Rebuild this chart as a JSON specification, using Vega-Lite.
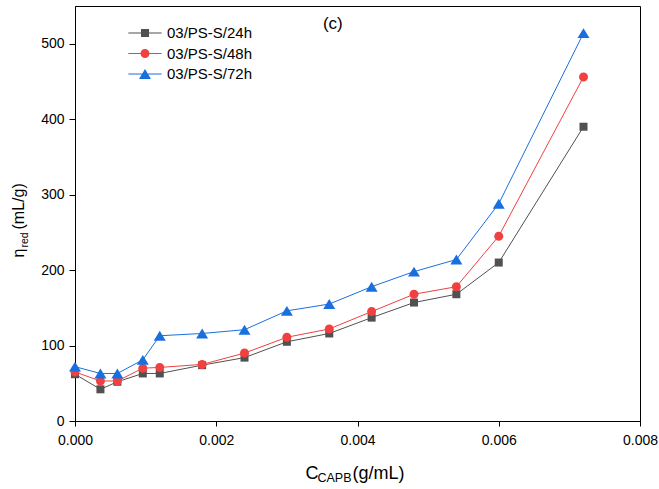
{
  "$schema": "https://vega.github.io/schema/vega-lite/v6.json",
  "autosize": {"type": "none"},
  "padding": {"left": 75, "top": 6, "right": 19, "bottom": 68},
  "width": 565,
  "height": 415,
  "config": {
    "font": "Liberation Sans",
    "view": {"stroke": "black", "strokeWidth": 1},
    "axis": {
      "labelFont": "Liberation Sans",
      "labelFontSize": 14,
      "labelColor": "black",
      "labelFlush": false,
      "tickColor": "black",
      "domainColor": "black",
      "grid": false,
      "titleFont": "Liberation Sans",
      "titleFontWeight": "normal",
      "titleColor": "black"
    },
    "legend": {"labelFont": "Liberation Sans"}
  },
  "datasets": {
    "main": [
      {"x": 0, "series": "03/PS-S/24h", "eta": 62},
      {"x": 0.00036, "series": "03/PS-S/24h", "eta": 42},
      {"x": 0.0006, "series": "03/PS-S/24h", "eta": 52},
      {"x": 0.00096, "series": "03/PS-S/24h", "eta": 63},
      {"x": 0.0012, "series": "03/PS-S/24h", "eta": 63},
      {"x": 0.0018, "series": "03/PS-S/24h", "eta": 74},
      {"x": 0.0024, "series": "03/PS-S/24h", "eta": 84},
      {"x": 0.003, "series": "03/PS-S/24h", "eta": 105},
      {"x": 0.0036, "series": "03/PS-S/24h", "eta": 116},
      {"x": 0.0042, "series": "03/PS-S/24h", "eta": 137},
      {"x": 0.0048, "series": "03/PS-S/24h", "eta": 157},
      {"x": 0.0054, "series": "03/PS-S/24h", "eta": 168},
      {"x": 0.006, "series": "03/PS-S/24h", "eta": 210},
      {"x": 0.0072, "series": "03/PS-S/24h", "eta": 390},
      {"x": 0, "series": "03/PS-S/48h", "eta": 65},
      {"x": 0.00036, "series": "03/PS-S/48h", "eta": 53},
      {"x": 0.0006, "series": "03/PS-S/48h", "eta": 53},
      {"x": 0.00096, "series": "03/PS-S/48h", "eta": 70},
      {"x": 0.0012, "series": "03/PS-S/48h", "eta": 71},
      {"x": 0.0018, "series": "03/PS-S/48h", "eta": 75},
      {"x": 0.0024, "series": "03/PS-S/48h", "eta": 90},
      {"x": 0.003, "series": "03/PS-S/48h", "eta": 111},
      {"x": 0.0036, "series": "03/PS-S/48h", "eta": 122},
      {"x": 0.0042, "series": "03/PS-S/48h", "eta": 145},
      {"x": 0.0048, "series": "03/PS-S/48h", "eta": 168},
      {"x": 0.0054, "series": "03/PS-S/48h", "eta": 178},
      {"x": 0.006, "series": "03/PS-S/48h", "eta": 245},
      {"x": 0.0072, "series": "03/PS-S/48h", "eta": 456},
      {"x": 0, "series": "03/PS-S/72h", "eta": 72},
      {"x": 0.00036, "series": "03/PS-S/72h", "eta": 63},
      {"x": 0.0006, "series": "03/PS-S/72h", "eta": 63},
      {"x": 0.00096, "series": "03/PS-S/72h", "eta": 81},
      {"x": 0.0012, "series": "03/PS-S/72h", "eta": 113},
      {"x": 0.0018, "series": "03/PS-S/72h", "eta": 116},
      {"x": 0.0024, "series": "03/PS-S/72h", "eta": 121},
      {"x": 0.003, "series": "03/PS-S/72h", "eta": 146},
      {"x": 0.0036, "series": "03/PS-S/72h", "eta": 155},
      {"x": 0.0042, "series": "03/PS-S/72h", "eta": 178},
      {"x": 0.0048, "series": "03/PS-S/72h", "eta": 198},
      {"x": 0.0054, "series": "03/PS-S/72h", "eta": 214},
      {"x": 0.006, "series": "03/PS-S/72h", "eta": 288},
      {"x": 0.0072, "series": "03/PS-S/72h", "eta": 514}
    ],
    "label": [
      {"x": 0.00365, "eta": 526, "text": "(c)"}
    ],
    "legendrows": [
      {"name": "03/PS-S/24h"},
      {"name": "03/PS-S/48h"},
      {"name": "03/PS-S/72h"}
    ]
  },
  "layer": [
    {
      "data": {"name": "main"},
      "mark": {"type": "line", "strokeWidth": 1, "clip": false},
      "encoding": {
        "x": {
          "field": "x", "type": "quantitative",
          "scale": {"domain": [0, 0.008], "nice": false, "zero": false},
          "axis": {
            "orient": "bottom", "values": [0, 0.002, 0.004, 0.006, 0.008], "format": ".3f",
            "tickSize": 5, "labelPadding": 7,
            "title": "C", "titleFontSize": 18, "titleX": 230, "titleY": 57,
            "titleAlign": "left", "titleBaseline": "alphabetic", "titleAngle": 0
          }
        },
        "y": {
          "field": "eta", "type": "quantitative",
          "scale": {"domain": [0, 550], "nice": false, "zero": false},
          "axis": {
            "orient": "left", "values": [0, 100, 200, 300, 400, 500],
            "tickSize": 6, "labelPadding": 5,
            "title": "η", "titleFontSize": 16, "titleX": -52, "titleY": 251,
            "titleAlign": "left", "titleBaseline": "alphabetic", "titleAngle": -90
          }
        },
        "color": {
          "field": "series", "type": "nominal",
          "scale": {"domain": ["03/PS-S/24h", "03/PS-S/48h", "03/PS-S/72h"], "range": ["#515151", "#F14040", "#1A6FDF"]},
          "legend": null
        }
      }
    },
    {
      "data": {"name": "main"},
      "mark": {"type": "point", "filled": true, "opacity": 1, "size": 81, "clip": false},
      "encoding": {
        "x": {
          "field": "x", "type": "quantitative",
          "scale": {"domain": [0, 0.008], "nice": false, "zero": false},
          "axis": {
            "orient": "bottom", "labels": false, "ticks": false, "domain": false,
            "title": "CAPB", "titleFontSize": 12.5, "titleX": 242, "titleY": 60,
            "titleAlign": "left", "titleBaseline": "alphabetic", "titleAngle": 0
          }
        },
        "y": {
          "field": "eta", "type": "quantitative",
          "scale": {"domain": [0, 550], "nice": false, "zero": false},
          "axis": {
            "orient": "left", "labels": false, "ticks": false, "domain": false,
            "title": "red", "titleFontSize": 10.5, "titleX": -48, "titleY": 241,
            "titleAlign": "left", "titleBaseline": "alphabetic", "titleAngle": -90
          }
        },
        "shape": {
          "field": "series", "type": "nominal",
          "scale": {
            "domain": ["03/PS-S/24h", "03/PS-S/48h", "03/PS-S/72h"],
            "range": [
              "M-0.89,-0.89H0.89V0.89H-0.89Z",
              "M-1,0A1,1 0 1,1 1,0A1,1 0 1,1 -1,0Z",
              "M0,-1.1L1.33,1.1H-1.33Z"
            ]
          },
          "legend": null
        },
        "fill": {
          "field": "series", "type": "nominal",
          "scale": {"domain": ["03/PS-S/24h", "03/PS-S/48h", "03/PS-S/72h"], "range": ["#515151", "#F14040", "#1A6FDF"]},
          "legend": null
        }
      }
    },
    {
      "data": {"name": "label"},
      "mark": {"type": "text", "fontSize": 17, "font": "Liberation Sans", "color": "black", "align": "center", "baseline": "middle"},
      "encoding": {
        "x": {
          "field": "x", "type": "quantitative",
          "scale": {"domain": [0, 0.008], "nice": false, "zero": false},
          "axis": {
            "orient": "bottom", "labels": false, "ticks": false, "domain": false,
            "title": "(g/mL)", "titleFontSize": 18, "titleX": 277, "titleY": 57,
            "titleAlign": "left", "titleBaseline": "alphabetic", "titleAngle": 0
          }
        },
        "y": {
          "field": "eta", "type": "quantitative",
          "scale": {"domain": [0, 550], "nice": false, "zero": false},
          "axis": {
            "orient": "left", "labels": false, "ticks": false, "domain": false,
            "title": "(mL/g)", "titleFontSize": 16, "titleX": -52, "titleY": 223,
            "titleAlign": "left", "titleBaseline": "alphabetic", "titleAngle": -90
          }
        },
        "text": {"field": "text", "type": "nominal"}
      }
    },
    {
      "data": {"name": "legendrows"},
      "transform": [{"filter": "false"}],
      "mark": {"type": "point", "filled": true, "opacity": 1, "size": 81, "strokeWidth": 0},
      "encoding": {
        "shape": {
          "field": "name", "type": "nominal",
          "scale": {
            "domain": ["03/PS-S/24h", "03/PS-S/48h", "03/PS-S/72h"],
            "range": [
              "M-3.7,-0.12H3.7V0.12H-3.7ZM-0.89,-0.89H0.89V0.89H-0.89Z",
              "M-3.7,-0.12H3.7V0.12H-3.7ZM-1,0A1,1 0 1,1 1,0A1,1 0 1,1 -1,0Z",
              "M-3.7,-0.12H3.7V0.12H-3.7ZM0,-1.1L1.33,1.1H-1.33Z"
            ]
          },
          "legend": {
            "title": null, "orient": "none", "legendX": 62.5, "legendY": 19.5,
            "padding": 0, "symbolSize": 81, "labelOffset": 14.5, "labelFontSize": 15,
            "labelColor": "black", "rowPadding": 4.5, "symbolStrokeWidth": 0, "symbolOpacity": 1
          }
        },
        "fill": {
          "field": "name", "type": "nominal",
          "scale": {"domain": ["03/PS-S/24h", "03/PS-S/48h", "03/PS-S/72h"], "range": ["#515151", "#F14040", "#1A6FDF"]},
          "legend": {
            "title": null, "orient": "none", "legendX": 62.5, "legendY": 19.5,
            "padding": 0, "symbolSize": 81, "labelOffset": 14.5, "labelFontSize": 15,
            "labelColor": "black", "rowPadding": 4.5, "symbolStrokeWidth": 0, "symbolOpacity": 1
          }
        }
      }
    }
  ],
  "resolve": {
    "axis": {"x": "independent", "y": "independent"},
    "scale": {"shape": "independent"},
    "legend": {"shape": "independent", "fill": "independent", "color": "independent"}
  }
}
